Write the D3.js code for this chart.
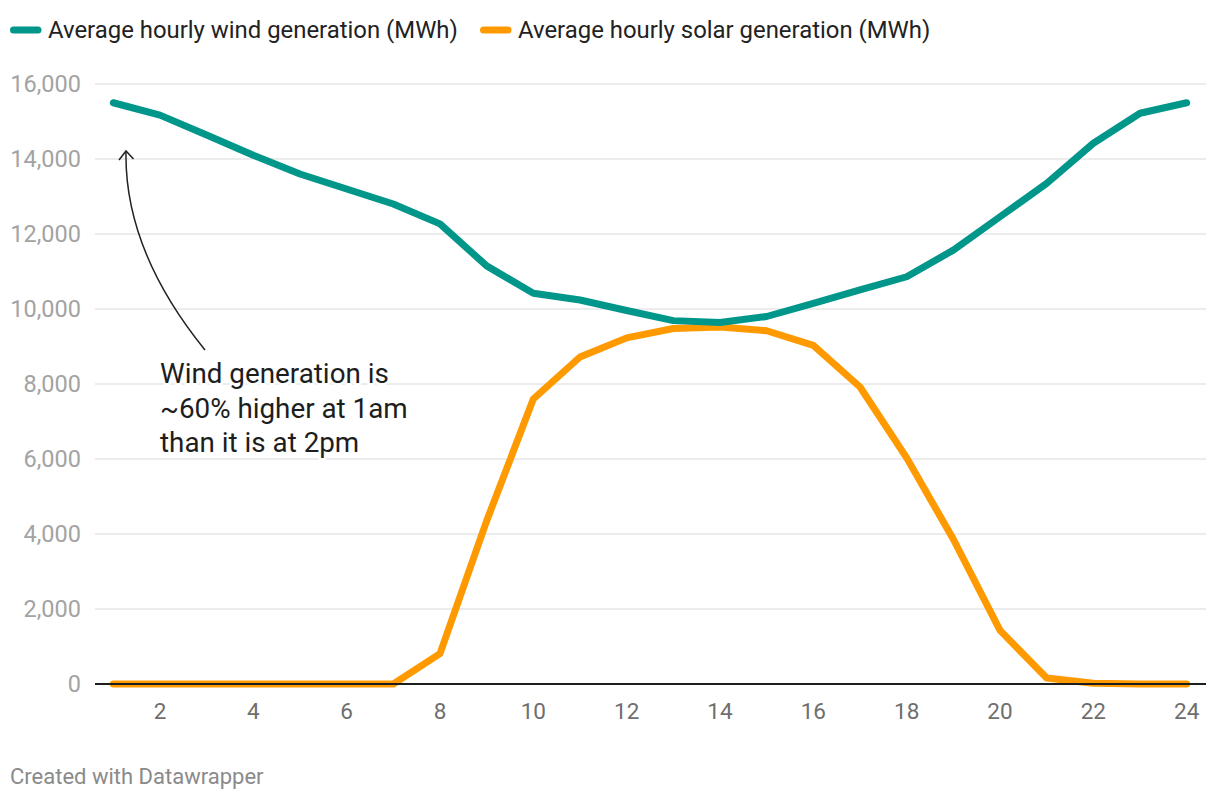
<!DOCTYPE html>
<html>
<head>
<meta charset="utf-8">
<script src="https://cdn.jsdelivr.net/npm/d3@7"></script>
<style>
  html, body { margin: 0; padding: 0; background: #fff; }
  svg { display: block; font-family: Roboto, "Noto Sans", sans-serif; }
</style>
</head>
<body>
<svg id="chart" width="1220" height="800"></svg>
<script>
const hours = [1,2,3,4,5,6,7,8,9,10,11,12,13,14,15,16,17,18,19,20,21,22,23,24];
const windValues = [15500,15170,14640,14100,13600,13200,12800,12270,11150,10420,10240,9960,9690,9640,9800,10150,10510,10860,11570,12460,13350,14420,15220,15500];
const solarValues = [0,0,0,0,0,0,0,810,4350,7600,8720,9230,9480,9520,9420,9030,7920,6030,3860,1430,160,20,0,0];
const yTicks = [0,2000,4000,6000,8000,10000,12000,14000,16000];
const xTicks = [2,4,6,8,10,12,14,16,18,20,22,24];
const seriesNames = ["Average hourly wind generation (MWh)", "Average hourly solar generation (MWh)"];
const seriesColors = ["#00968a", "#fe9a00"];
const annotationLines = ["Wind generation is", "~60% higher at 1am", "than it is at 2pm"];
const footer = "Created with Datawrapper";

const svg = d3.select("#chart");
const x = d3.scaleLinear().domain([1,24]).range([113.3,1186.7]);
const y = d3.scaleLinear().domain([0,16000]).range([684,84]);
const gridLeft = 95, gridRight = 1206;

// gridlines
svg.append("g").selectAll("line").data(yTicks.filter(d => d > 0)).join("line")
  .attr("x1", gridLeft).attr("x2", gridRight)
  .attr("y1", d => y(d)).attr("y2", d => y(d))
  .attr("stroke", "#e6e6e6").attr("stroke-width", 1.5);

// y labels
const fmt = d3.format(",");
svg.append("g").selectAll("text").data(yTicks).join("text")
  .attr("x", 81).attr("y", d => y(d)).attr("dy", "0.35em")
  .attr("text-anchor", "end").attr("fill", "#a3a3a3")
  .attr("font-size", 23.5).text(d => fmt(d));

// x labels
svg.append("g").selectAll("text").data(xTicks).join("text")
  .attr("x", d => x(d)).attr("y", 711).attr("dy", "0.35em")
  .attr("text-anchor", "middle").attr("fill", "#6e6e6e")
  .attr("font-size", 22.5).text(d => d);

// lines
const line = d3.line().x((d,i) => x(hours[i])).y(d => y(d));
[solarValues, windValues].forEach((vals, k) => {
  const idx = k === 0 ? 1 : 0;
  svg.append("path").datum(vals)
    .attr("d", line).attr("fill", "none")
    .attr("stroke", seriesColors[idx]).attr("stroke-width", 7)
    .attr("stroke-linecap", "round").attr("stroke-linejoin", "round");
});

// baseline
svg.append("line").attr("x1", gridLeft).attr("x2", gridRight)
  .attr("y1", y(0)).attr("y2", y(0))
  .attr("stroke", "#1d1d1d").attr("stroke-width", 2);

// annotation arrow
const p0 = [205, 350], c = [124, 250], p2 = [126, 151];
svg.append("path")
  .attr("d", `M${p0[0]},${p0[1]} Q${c[0]},${c[1]} ${p2[0]},${p2[1]}`)
  .attr("fill", "none").attr("stroke", "#222").attr("stroke-width", 1.5);
svg.append("path")
  .attr("d", `M${p2[0]-7},${p2[1]+9} L${p2[0]},${p2[1]} L${p2[0]+7.5},${p2[1]+8}`)
  .attr("fill", "none").attr("stroke", "#222").attr("stroke-width", 1.5)
  .attr("stroke-linejoin", "miter");

// annotation text
const at = svg.append("text").attr("x", 160).attr("y", 383)
  .attr("font-size", 27.8).attr("fill", "#1d1d1d")
  .attr("stroke", "#fff").attr("stroke-width", 5).attr("paint-order", "stroke")
  .attr("stroke-linejoin", "round");
annotationLines.forEach((t, i) => {
  at.append("tspan").attr("x", 160).attr("y", 383 + i * 34.5).text(t);
});

// legend
const legendX = [10, 480];
seriesNames.forEach((name, i) => {
  const g = svg.append("g");
  g.append("line").attr("x1", legendX[i] + 3.5).attr("x2", legendX[i] + 28)
    .attr("y1", 30).attr("y2", 30)
    .attr("stroke", seriesColors[i]).attr("stroke-width", 7)
    .attr("stroke-linecap", "round");
  g.append("text").attr("x", legendX[i] + 38).attr("y", 30).attr("dy", "0.35em")
    .attr("font-size", 23.9).attr("fill", "#222").text(name);
});

// footer
svg.append("text").attr("x", 10).attr("y", 776).attr("dy", "0.35em")
  .attr("font-size", 22).attr("fill", "#8a8a8a").text(footer);
</script>
</body>
</html>
